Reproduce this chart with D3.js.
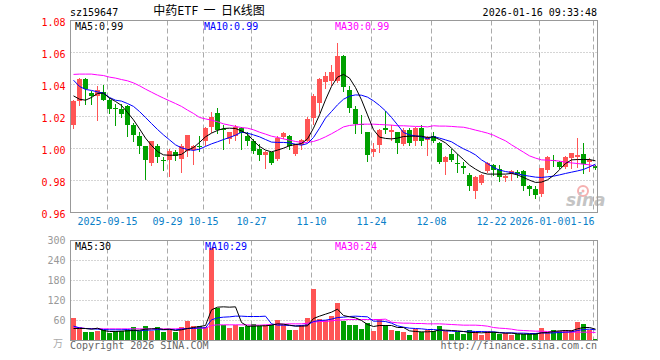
<!DOCTYPE html>
<html><head><meta charset="utf-8">
<script src="https://cdn.jsdelivr.net/npm/d3@7"></script>
<style>body{margin:0;background:#fff}</style>
</head><body><svg id="c" width="660" height="360"></svg>
<script>
const dates=["2025-09-05","2025-09-08","2025-09-09","2025-09-10","2025-09-11","2025-09-12",
"2025-09-15","2025-09-16","2025-09-17","2025-09-18","2025-09-19",
"2025-09-22","2025-09-23","2025-09-24","2025-09-25","2025-09-26",
"2025-09-29","2025-09-30","2025-10-09","2025-10-10",
"2025-10-13","2025-10-14","2025-10-15","2025-10-16","2025-10-17",
"2025-10-20","2025-10-21","2025-10-22","2025-10-23","2025-10-24",
"2025-10-27","2025-10-28","2025-10-29","2025-10-30","2025-10-31",
"2025-11-03","2025-11-04","2025-11-05","2025-11-06","2025-11-07",
"2025-11-10","2025-11-11","2025-11-12","2025-11-13","2025-11-14",
"2025-11-17","2025-11-18","2025-11-19","2025-11-20","2025-11-21",
"2025-11-24","2025-11-25","2025-11-26","2025-11-27","2025-11-28",
"2025-12-01","2025-12-02","2025-12-03","2025-12-04","2025-12-05",
"2025-12-08","2025-12-09","2025-12-10","2025-12-11","2025-12-12",
"2025-12-15","2025-12-16","2025-12-17","2025-12-18","2025-12-19",
"2025-12-22","2025-12-23","2025-12-24","2025-12-25","2025-12-26",
"2025-12-29","2025-12-30","2025-12-31","2026-01-05","2026-01-06",
"2026-01-07","2026-01-08","2026-01-09","2026-01-12","2026-01-13",
"2026-01-14","2026-01-15","2026-01-16"];

const open=[1.0150,1.0298,1.0433,1.0346,1.0329,1.0352,1.0306,1.0252,1.0248,1.0263,
1.0148,1.0079,1.0017,0.9910,1.0017,0.9927,0.9927,0.9981,0.9935,0.9985,
0.9992,1.0017,1.0044,1.0133,1.0225,1.0121,1.0060,1.0081,1.0131,1.0081,
1.0048,0.9998,0.9960,0.9975,0.9933,1.0073,1.0079,0.9965,1.0023,1.0048,
1.0190,1.0283,1.0417,1.0419,1.0423,1.0577,1.0363,1.0246,1.0156,1.0102,
0.9977,1.0019,1.0127,1.0100,1.0102,1.0027,1.0115,1.0046,1.0127,1.0056,
1.0081,1.0033,0.9915,0.9965,0.9910,0.9888,0.9833,0.9735,0.9785,0.9860,
0.9896,0.9871,0.9813,0.9840,0.9856,0.9858,0.9765,0.9746,0.9715,0.9865,
0.9929,0.9917,0.9885,0.9938,0.9948,0.9965,0.9917,0.9890];
const high=[1.0300,1.0438,1.0440,1.0360,1.0388,1.0398,1.0315,1.0277,1.0277,1.0269,
1.0158,1.0106,1.0017,1.0048,1.0029,0.9948,0.9996,0.9992,1.0027,1.0085,
1.0023,1.0081,1.0135,1.0227,1.0252,1.0148,1.0106,1.0144,1.0135,1.0106,
1.0060,1.0027,0.9985,0.9981,1.0075,1.0102,1.0085,1.0031,1.0060,1.0200,
1.0338,1.0438,1.0477,1.0523,1.0658,1.0585,1.0388,1.0263,1.0208,1.0106,
1.0035,1.0123,1.0233,1.0144,1.0106,1.0127,1.0130,1.0133,1.0144,1.0081,
1.0102,1.0040,0.9950,0.9998,0.9965,0.9913,0.9846,0.9825,0.9840,0.9915,
0.9902,0.9898,0.9835,0.9867,0.9867,0.9865,0.9773,0.9763,0.9881,0.9952,
0.9958,0.9923,0.9954,0.9973,1.0067,1.0035,0.9940,0.9898];
const low=[1.0127,1.0273,1.0277,1.0280,1.0175,1.0300,1.0225,1.0148,1.0194,1.0081,
1.0048,0.9973,0.9810,0.9898,0.9913,0.9863,0.9831,0.9925,0.9852,0.9956,
0.9904,0.9985,1.0019,1.0106,1.0096,0.9998,1.0033,1.0054,0.9998,1.0019,
0.9973,0.9929,0.9877,0.9904,0.9929,1.0065,0.9998,0.9960,0.9998,1.0044,
1.0156,1.0231,1.0377,1.0398,1.0415,1.0360,1.0227,1.0098,1.0098,0.9923,
0.9954,0.9979,1.0094,1.0054,0.9973,1.0019,1.0023,1.0023,1.0019,0.9958,
1.0040,0.9908,0.9840,0.9923,0.9854,0.9848,0.9740,0.9692,0.9781,0.9856,
0.9835,0.9794,0.9796,0.9804,0.9819,0.9740,0.9710,0.9690,0.9706,0.9856,
0.9892,0.9881,0.9881,0.9877,0.9885,0.9844,0.9858,0.9873];
const close=[1.0296,1.0433,1.0373,1.0329,1.0365,1.0306,1.0248,1.0246,1.0215,1.0148,
1.0085,1.0017,0.9929,1.0044,0.9948,0.9921,0.9985,0.9950,1.0017,1.0083,
1.0015,1.0010,1.0127,1.0200,1.0117,1.0115,1.0100,1.0135,1.0096,1.0048,
0.9985,0.9960,0.9981,0.9908,1.0065,1.0094,1.0017,1.0027,1.0054,1.0183,
1.0331,1.0433,1.0452,1.0477,1.0577,1.0385,1.0254,1.0152,1.0148,0.9958,
0.9998,1.0115,1.0115,1.0117,1.0035,1.0115,1.0035,1.0127,1.0046,1.0069,
1.0048,0.9915,0.9944,0.9929,0.9902,0.9879,0.9765,0.9819,0.9833,0.9910,
0.9865,0.9819,0.9827,0.9858,0.9840,0.9765,0.9746,0.9708,0.9875,0.9944,
0.9921,0.9885,0.9944,0.9969,0.9958,0.9906,0.9927,0.9875];

const volume=[67,40,25,25,28,33,22,28,28,33,40,28,43,30,40,25,31,25,40,58,
43,43,40,277,98,48,37,46,40,43,50,43,46,48,61,46,31,31,46,68,
154,66,61,74,113,60,46,46,34,54,28,64,46,31,28,25,16,34,25,31,
28,43,28,19,25,19,31,25,16,28,25,19,22,16,19,19,19,22,37,25,
31,28,31,31,55,49,31,4];

const ma5=[1.0329,1.0308,1.0302,1.0319,1.0344,1.0346,1.0315,1.0294,1.0269,1.0225,
1.0179,1.0123,1.0065,1.0019,0.9981,0.9960,0.9958,0.9958,0.9963,0.9990,
1.0006,1.0038,1.0073,1.0096,1.0113,1.0125,1.0127,1.0125,1.0110,1.0090,
1.0048,1.0013,0.9990,0.9979,0.9990,1.0002,1.0017,1.0025,1.0031,1.0060,
1.0127,1.0210,1.0304,1.0388,1.0446,1.0463,1.0440,1.0381,1.0304,1.0210,
1.0117,1.0071,1.0063,1.0060,1.0065,1.0075,1.0077,1.0077,1.0077,1.0069,
1.0073,1.0056,1.0035,1.0002,0.9965,0.9931,0.9896,0.9871,0.9850,0.9840,
0.9840,0.9840,0.9840,0.9844,0.9835,0.9819,0.9802,0.9788,0.9790,0.9804,
0.9831,0.9867,0.9906,0.9929,0.9931,0.9931,0.9931,0.9923];
const ma10=[1.0427,1.0388,1.0369,1.0363,1.0354,1.0346,1.0319,1.0302,1.0296,1.0281,
1.0263,1.0231,1.0194,1.0156,1.0119,1.0085,1.0054,1.0023,1.0004,0.9994,
0.9988,0.9996,1.0013,1.0029,1.0042,1.0056,1.0069,1.0083,1.0102,1.0096,
1.0085,1.0073,1.0056,1.0040,1.0038,1.0038,1.0035,1.0027,1.0021,1.0031,
1.0069,1.0127,1.0190,1.0231,1.0273,1.0308,1.0327,1.0335,1.0333,1.0321,
1.0298,1.0269,1.0235,1.0194,1.0148,1.0100,1.0085,1.0079,1.0073,1.0060,
1.0075,1.0065,1.0054,1.0042,1.0019,0.9998,0.9981,0.9960,0.9929,0.9906,
0.9881,0.9865,0.9856,0.9850,0.9842,0.9833,0.9827,0.9821,0.9819,0.9823,
0.9827,0.9835,0.9844,0.9852,0.9860,0.9869,0.9885,0.9902];
const ma30=[1.0463,1.0465,1.0465,1.0465,1.0460,1.0456,1.0446,1.0440,1.0431,1.0423,
1.0410,1.0392,1.0371,1.0352,1.0333,1.0315,1.0298,1.0281,1.0263,1.0240,
1.0219,1.0194,1.0185,1.0177,1.0167,1.0154,1.0146,1.0138,1.0131,1.0127,
1.0117,1.0102,1.0090,1.0077,1.0069,1.0060,1.0052,1.0044,1.0038,1.0038,
1.0044,1.0056,1.0073,1.0092,1.0113,1.0135,1.0144,1.0148,1.0152,1.0152,
1.0152,1.0150,1.0148,1.0146,1.0142,1.0142,1.0140,1.0138,1.0138,1.0135,
1.0142,1.0140,1.0140,1.0138,1.0135,1.0133,1.0125,1.0115,1.0106,1.0096,
1.0083,1.0065,1.0048,1.0023,1.0000,0.9977,0.9954,0.9940,0.9929,0.9927,
0.9925,0.9921,0.9915,0.9910,0.9906,0.9902,0.9898,0.9890];

const volMa5=[36,36,36,34,37,30,27,27,28,29,30,31,34,35,36,33,34,30,32,36,
39,42,45,92,100,101,100,101,54,43,43,44,44,46,50,49,46,43,43,44,
66,73,79,85,94,75,71,68,60,48,42,45,45,45,39,39,29,27,26,26,
27,32,31,30,29,27,24,24,23,24,25,23,22,22,20,19,19,19,23,24,
27,29,30,29,35,39,39,34];
const volMa10=[43,38,36,35,34,33,32,32,32,33,30,29,31,31,33,32,33,32,34,36,
36,38,38,62,68,70,71,73,73,72,72,72,73,50,46,46,45,44,45,47,
57,60,61,64,69,70,72,73,72,71,58,58,57,52,44,40,37,36,35,33,
33,31,29,28,27,27,28,27,27,26,26,24,23,23,22,22,21,21,23,22,
23,24,25,26,30,33,34,32];
const volMa30=[41,38,36,36,36,35,35,35,35,35,35,35,35,35,35,35,35,35,36,36,
37,37,37,45,47,47,47,47,47,47,46,46,47,48,49,49,50,50,50,52,
55,57,57,59,61,62,63,63,63,63,63,63,64,55,53,52,52,51,51,50,
50,50,49,48,47,46,46,46,45,43,39,37,36,34,31,30,29,28,28,27,
26,26,25,25,25,25,25,24];

const priceTicks=[0.96,0.98,1.00,1.02,1.04,1.06,1.08];
const volTicks=[60,120,180,240,300];
const xTickDates=["2025-09-15","2025-09-29","2025-10-15","2025-10-27","2025-11-10","2025-11-24","2025-12-08","2025-12-22","2026-01-05","2026-01-16"];
const xTickLabels=["2025-09-15","09-29","10-15","10-27","11-10","11-24","12-08","12-22","2026-01-05","01-16"];

const MONO="'DejaVu Sans Mono', 'Liberation Mono', monospace";
const RED="#ff5555", GREEN="#00a000", GRID="#aaaaaa", FRAME="#999999";
const svg=d3.select("#c");
const L=70.5, R=597.5, PT=20.5, PB=212.5, VT=240.5, VB=340.5;

const x=d3.scaleBand().domain(dates).range([71,598]).paddingInner(1/6).paddingOuter(0);
const bw=x.bandwidth();
const y=d3.scaleLinear().domain([0.96,1.08]).range([PB,PT]);
const yv=d3.scaleLinear().domain([0,300]).range([VB,VT]);

// grid
const g=svg.append("g");
g.selectAll(".hp").data(priceTicks.slice(1,-1)).join("line")
 .attr("x1",L).attr("x2",R).attr("y1",d=>y(d)).attr("y2",d=>y(d))
 .attr("stroke",GRID).attr("stroke-dasharray","1,2");
g.selectAll(".hv").data(volTicks.slice(0,-1)).join("line")
 .attr("x1",L).attr("x2",R).attr("y1",d=>yv(d)).attr("y2",d=>yv(d))
 .attr("stroke",GRID).attr("stroke-dasharray","1,2");
[[PT,PB],[VT,VB]].forEach(([a,b])=>{
 g.append("g").selectAll("line").data(xTickDates).join("line")
  .attr("x1",d=>x(d)+0.5).attr("x2",d=>x(d)+0.5).attr("y1",a).attr("y2",b)
  .attr("stroke",GRID).attr("stroke-dasharray","5,3");
});

// watermark
const wm=svg.append("g");
wm.append("circle").attr("cx",583).attr("cy",191).attr("r",5).attr("fill","none").attr("stroke","#f5b0b0").attr("stroke-width",2);
wm.append("circle").attr("cx",583).attr("cy",191).attr("r",1.5).attr("fill","#f5b0b0");
wm.append("text").attr("x",566).attr("y",206).attr("font-family","'DejaVu Sans', sans-serif")
 .attr("font-size",17).attr("font-style","italic").attr("font-weight","bold").attr("fill","#c4c4c4").text("sina");

// candles
const idx=d3.range(dates.length);
const up=i=>close[i]>=open[i];
const cg=svg.append("g");
cg.selectAll("line").data(idx).join("line")
 .attr("x1",i=>x(dates[i])+bw/2).attr("x2",i=>x(dates[i])+bw/2)
 .attr("y1",i=>Math.round(y(high[i]))).attr("y2",i=>Math.round(y(low[i]))+1)
 .attr("stroke",i=>up(i)?RED:GREEN);
cg.selectAll("rect").data(idx).join("rect")
 .attr("x",i=>x(dates[i])).attr("width",bw)
 .attr("y",i=>Math.round(y(Math.max(open[i],close[i]))))
 .attr("height",i=>Math.max(1,Math.round(y(Math.min(open[i],close[i])))-Math.round(y(Math.max(open[i],close[i])))))
 .attr("fill",i=>up(i)?RED:GREEN);

// volume bars
svg.append("g").selectAll("rect").data(idx).join("rect")
 .attr("x",i=>x(dates[i])).attr("width",bw)
 .attr("y",i=>Math.round(yv(volume[i])))
 .attr("height",i=>Math.max(1,Math.round(VB)-Math.round(yv(volume[i]))))
 .attr("fill",i=>up(i)?RED:GREEN);

// MA lines
const lineP=d3.line().x((d,i)=>x(dates[i])+bw/2).y(d=>y(d));
const lineV=d3.line().x((d,i)=>x(dates[i])+bw/2).y(d=>yv(d));
[[ma30,"#ff00ff"],[ma10,"#0000ff"],[ma5,"#000000"]].forEach(([s,c])=>{
 svg.append("path").attr("d",lineP(s)).attr("fill","none").attr("stroke",c).attr("stroke-width",1);
});
[[volMa30,"#ff00ff"],[volMa10,"#0000ff"],[volMa5,"#000000"]].forEach(([s,c])=>{
 svg.append("path").attr("d",lineV(s)).attr("fill","none").attr("stroke",c).attr("stroke-width",1);
});

// frames
svg.append("rect").attr("x",L).attr("y",PT).attr("width",R-L).attr("height",PB-PT).attr("fill","none").attr("stroke",FRAME);
svg.append("rect").attr("x",L).attr("y",VT).attr("width",R-L).attr("height",VB-VT).attr("fill","none").attr("stroke",FRAME);

// axes
const ay=svg.append("g").attr("transform",`translate(${L},0)`)
 .call(d3.axisLeft(y).tickValues(priceTicks).tickFormat(d3.format(".2f")).tickSize(0).tickPadding(5));
ay.select(".domain").remove();
ay.selectAll("text").attr("fill","#ff0000").attr("font-family",MONO).attr("font-size",10).attr("dy","0.45em");
const av=svg.append("g").attr("transform",`translate(${L},0)`)
 .call(d3.axisLeft(yv).tickValues(volTicks).tickSize(0).tickPadding(5));
av.select(".domain").remove();
av.selectAll("text").attr("fill","#999999").attr("font-family",MONO).attr("font-size",10).attr("dy","0.3em");
svg.append("text").attr("x",63).attr("y",347).attr("text-anchor","end").attr("font-family","'Noto Sans CJK SC', sans-serif")
 .attr("font-size",10).attr("fill","#aaaaaa").text("万");

// x labels
const xl=svg.append("g").attr("font-family",MONO).attr("font-size",10).attr("fill","#0a80c8");
xTickDates.forEach((d,k)=>{
 const last=k===xTickDates.length-1;
 const px=x(d)+0.5+(last?1:0);
 if(last){xl.append("rect").attr("x",px-30).attr("y",216).attr("width",30).attr("height",11).attr("fill","#fff");}
 xl.append("text").attr("x",px).attr("y",225).attr("text-anchor",last?"end":"middle").text(xTickLabels[k]);
});

// header texts
svg.append("text").attr("x",70).attr("y",16).attr("font-family",MONO).attr("font-size",10).attr("fill","#000").text("sz159647");
svg.append("text").attr("x",209).attr("y",15).attr("text-anchor","middle").attr("font-family","'Noto Sans CJK SC', sans-serif")
 .attr("font-size",12).attr("fill","#000").style("white-space","pre").text("中药ETF  一  日K线图");
svg.append("text").attr("x",597).attr("y",16).attr("text-anchor","end").attr("font-family",MONO).attr("font-size",10).attr("fill","#000").text("2026-01-16 09:33:48");

const lab=(tx,xx,yy,c)=>svg.append("text").attr("x",xx).attr("y",yy).attr("font-family",MONO).attr("font-size",10).attr("fill",c).text(tx);
lab("MA5:0.99",75,30,"#000");
lab("MA10:0.99",204,30,"#0000ff");
lab("MA30:0.99",335,30,"#ff00ff");
lab("MA5:30",75,250,"#000");
lab("MA10:29",205,250,"#0000ff");
lab("MA30:24",335,250,"#ff00ff");
lab("Copyright 2026 SINA.COM",70,349,"#666");
svg.append("text").attr("x",597).attr("y",349).attr("text-anchor","end").attr("font-family",MONO).attr("font-size",10).attr("fill","#666").text("http://finance.sina.com.cn");
</script></body></html>
